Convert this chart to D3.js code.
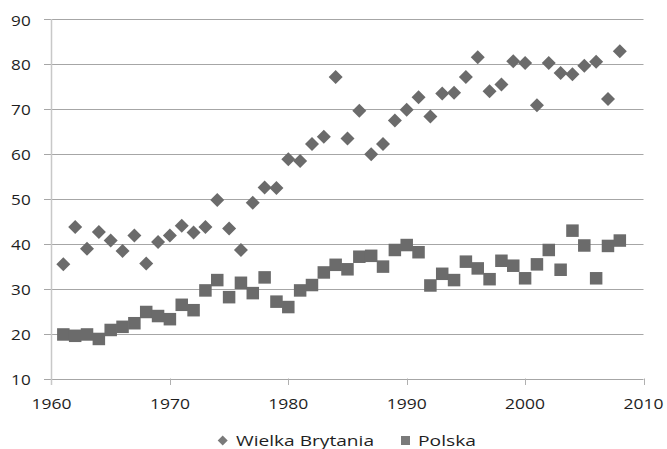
<!DOCTYPE html>
<html><head><meta charset="utf-8">
<script src="https://cdn.jsdelivr.net/npm/d3@7"></script>
<style>html,body{margin:0;padding:0;background:#fff;}svg{display:block;}</style>
</head><body>
<svg id="c" width="667" height="449"></svg>
<script>
const years = d3.range(1961, 2009);
const ukValues = [35.4,43.7,38.9,42.6,40.7,38.4,41.8,35.6,40.4,41.8,44.0,42.5,43.7,49.7,43.4,38.6,49.1,52.5,52.4,58.8,58.4,62.2,63.8,77.1,63.4,69.6,59.9,62.2,67.4,69.8,72.6,68.3,73.4,73.6,77.1,81.5,73.9,75.4,80.6,80.2,70.8,80.2,78.0,77.7,79.6,80.5,72.2,82.8];
const plValues = [19.8,19.5,19.8,18.8,20.8,21.5,22.3,24.8,23.9,23.2,26.4,25.2,29.6,31.9,28.1,31.3,29.0,32.5,27.1,25.9,29.6,30.8,33.6,35.3,34.3,37.1,37.3,34.9,38.6,39.7,38.1,30.7,33.3,31.9,36.0,34.5,32.1,36.2,35.1,32.3,35.4,38.6,34.2,42.9,39.6,32.3,39.5,40.7];
const seriesNames = ["Wielka Brytania", "Polska"];
const xTicks = [1960,1970,1980,1990,2000,2010];
const yTicks = [10,20,30,40,50,60,70,80,90];

const svg = d3.select("#c");
const font = "'Open Sans', sans-serif";
const fs = 15;
const x = d3.scaleLinear().domain([1960, 2010]).range([51.5, 643.5]);
const y = d3.scaleLinear().domain([10, 90]).range([378.5, 19]);
const markColor = "#6b6b6b";

// gridlines
svg.append("g").selectAll("line").data(yTicks).join("line")
  .attr("x1", 44).attr("x2", x(2010))
  .attr("y1", d => Math.round(y(d)) + 0.5).attr("y2", d => Math.round(y(d)) + 0.5)
  .attr("stroke", "#a6a6a6").attr("stroke-width", 1);

// y axis line
svg.append("line").attr("x1", 51.5).attr("x2", 51.5).attr("y1", y(90)).attr("y2", 385)
  .attr("stroke", "#c8c8c8").attr("stroke-width", 1.5);

// x axis ticks
svg.append("g").selectAll("line").data(xTicks.slice(1)).join("line")
  .attr("x1", d => Math.round(x(d)) + 0.5).attr("x2", d => Math.round(x(d)) + 0.5)
  .attr("y1", 378.5).attr("y2", 385)
  .attr("stroke", "#b0b0b0").attr("stroke-width", 1);

// y labels
svg.append("g").selectAll("text").data(yTicks).join("text")
  .attr("x", 30.7).attr("y", d => y(d) + 6.5)
  .attr("text-anchor", "end").attr("font-family", font).attr("font-size", fs)
  .attr("textLength", d => String(d).length * 9.8).attr("lengthAdjust", "spacingAndGlyphs")
  .attr("fill", "#1e1e1e").text(d => d);

// x labels
svg.append("g").selectAll("text").data(xTicks).join("text")
  .attr("x", d => x(d)).attr("y", 408.5)
  .attr("text-anchor", "middle").attr("font-family", font).attr("font-size", fs)
  .attr("textLength", d => String(d).length * 10).attr("lengthAdjust", "spacingAndGlyphs")
  .attr("fill", "#1e1e1e").text(d => d);

// Polska squares
const sq = 12.5;
svg.append("g").selectAll("rect").data(years).join("rect")
  .attr("x", (d, i) => x(d) - sq / 2).attr("y", (d, i) => y(plValues[i]) - sq / 2)
  .attr("width", sq).attr("height", sq).attr("fill", markColor);

// UK diamonds
const dm = 7;
svg.append("g").selectAll("path").data(years).join("path")
  .attr("d", (d, i) => {
    const cx = x(d), cy = y(ukValues[i]);
    return `M${cx},${cy - dm}L${cx + dm},${cy}L${cx},${cy + dm}L${cx - dm},${cy}Z`;
  })
  .attr("fill", markColor);

// legend
const lg = svg.append("g");
const ld = 5;
lg.append("path").attr("d", `M222.7,${440.5 - ld}L${222.7 + ld},440.5L222.7,${440.5 + ld}L${222.7 - ld},440.5Z`).attr("fill", "#7a7a7a");
lg.append("text").attr("x", 236).attr("y", 445.5).attr("font-family", font).attr("font-size", fs)
  .attr("textLength", 138).attr("lengthAdjust", "spacingAndGlyphs")
  .attr("fill", "#1e1e1e").text(seriesNames[0]);
lg.append("rect").attr("x", 401).attr("y", 436).attr("width", 9).attr("height", 9).attr("fill", "#7a7a7a");
lg.append("text").attr("x", 418).attr("y", 445.5).attr("font-family", font).attr("font-size", fs)
  .attr("textLength", 58).attr("lengthAdjust", "spacingAndGlyphs")
  .attr("fill", "#1e1e1e").text(seriesNames[1]);
</script>
</body></html>
